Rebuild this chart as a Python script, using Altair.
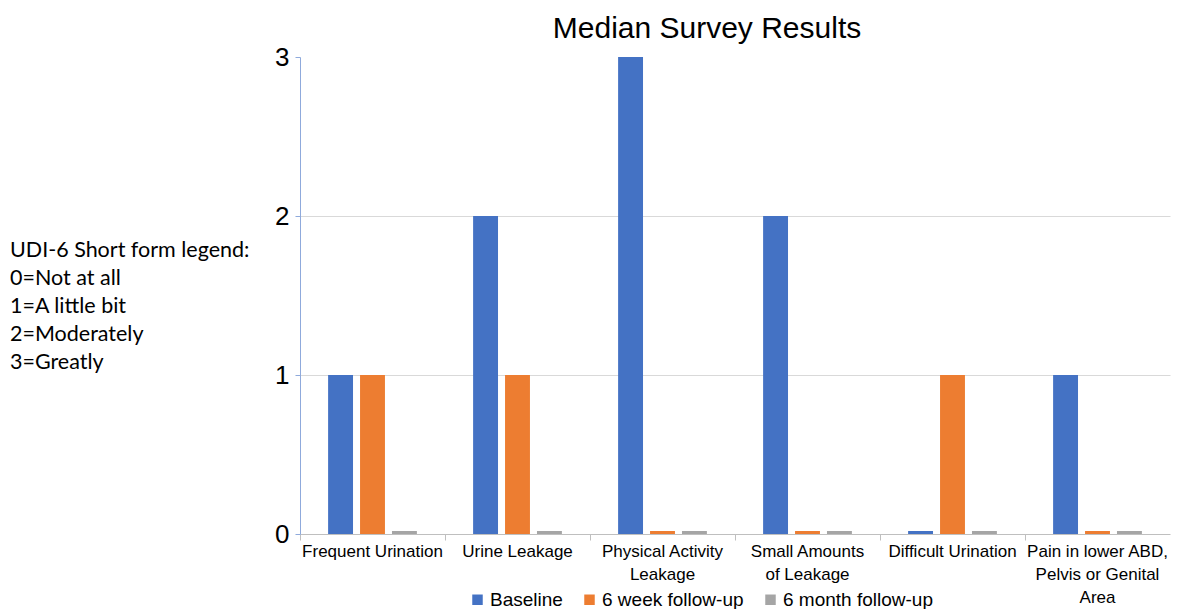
import altair as alt
import pandas as pd

categories = [
    "Frequent Urination",
    "Urine Leakage",
    "Physical Activity|Leakage",
    "Small Amounts|of Leakage",
    "Difficult Urination",
    "Pain in lower ABD,|Pelvis or Genital|Area",
]
series = ["Baseline", "6 week follow-up", "6 month follow-up"]
baseline = [1, 2, 3, 2, 0, 1]
week6 = [1, 1, 0, 0, 1, 0]
month6 = [0, 0, 0, 0, 0, 0]
colors = ["#4472C4", "#ED7D31", "#A5A5A5"]
y_ticks = [0, 1, 2, 3]
side_note = ["UDI-6 Short form legend:", "0=Not at all", "1=A little bit", "2=Moderately", "3=Greatly"]

rows = []
for name, vals in zip(series, [baseline, week6, month6]):
    for c, v in zip(categories, vals):
        rows.append({"category": c, "series": name, "value": v})
df = pd.DataFrame(rows)

x_enc = alt.X(
    "category:N",
    sort=categories,
    scale=alt.Scale(paddingInner=0, paddingOuter=0),
    axis=alt.Axis(
        title=None,
        labelAngle=0,
        labelExpr="split(datum.label, '|')",
        labelFont="Liberation Sans",
        labelFontSize=17,
        labelColor="#000000",
        labelLineHeight=23,
        labelPadding=3,
        labelBaseline="top",
        bandPosition=0,
        tickSize=6,
        tickColor="#bfbfbf",
        domainColor="#bfbfbf",
        grid=False,
    ),
)
xo_enc = alt.XOffset(
    "series:N",
    sort=series,
    scale=alt.Scale(paddingInner=0.22, paddingOuter=0.88),
)
y_enc = alt.Y(
    "value:Q",
    scale=alt.Scale(domain=[0, 3], nice=False),
    axis=alt.Axis(
        title=None,
        values=y_ticks,
        format="d",
        labelFont="Liberation Sans",
        labelFontSize=26,
        labelColor="#000000",
        labelPadding=6,
        tickSize=5,
        tickColor="#8FAADC",
        domainColor="#8FAADC",
        gridColor={"condition": {"test": "datum.value == 3 || datum.value == 0", "value": "transparent"}, "value": "#d9d9d9"},
    ),
)
color_enc = alt.Color(
    "series:N",
    sort=series,
    scale=alt.Scale(domain=series, range=colors),
    legend=alt.Legend(
        title=None,
        orient="none",
        direction="horizontal",
        legendX=168,
        legendY=533,
        symbolType="square",
        symbolSize=110,
        symbolStrokeWidth=0,
        labelFont="Liberation Sans",
        labelFontSize=19,
        labelColor="#000000",
        labelOffset=3,
        columnPadding=17,
    ),
)
stroke_enc = alt.Stroke("series:N", sort=series, scale=alt.Scale(domain=series, range=colors), legend=None)

base = alt.Chart(df)
bars = base.transform_filter("datum.value > 0").mark_bar(xOffset=1.5).encode(
    x=x_enc, xOffset=xo_enc, y=y_enc, color=color_enc
)
zero_bars = base.transform_filter("datum.value == 0").mark_bar(strokeWidth=3, yOffset=-1.5, xOffset=1.5).encode(
    x=x_enc, xOffset=xo_enc, y=y_enc, color=color_enc, stroke=stroke_enc
)

note = alt.Chart(pd.DataFrame({"t": ["\n".join(side_note)]})).mark_text(
    align="left",
    baseline="top",
    font="Lato",
    fontSize=21.5,
    lineHeight=28,
    lineBreak="\n",
    color="#000000",
).encode(text="t:N", x=alt.value(-290), y=alt.value(183))

chart = alt.layer(bars, zero_bars, note).properties(
    width=870,
    height=477,
    title=alt.TitleParams(
        "Median Survey Results",
        font="Liberation Sans",
        fontSize=30,
        fontWeight="normal",
        color="#000000",
        anchor="middle",
        dx=-28,
        offset=0,
    ),
    autosize=alt.AutoSizeParams(type="none"),
    padding={"left": 300, "top": 57, "right": 14, "bottom": 75},
).configure_view(stroke=None).configure_axis(gridWidth=1)

chart.save("out.html", embed_options={"renderer": "svg", "actions": False})
